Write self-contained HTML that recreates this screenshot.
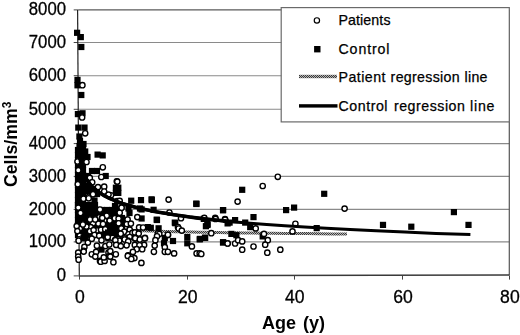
<!DOCTYPE html>
<html><head><meta charset="utf-8"><style>
html,body{margin:0;padding:0;background:#fff;}
svg{display:block;filter:blur(0.35px);}
.t{font-family:"Liberation Sans",sans-serif;font-size:17.6px;fill:#000;stroke:#000;stroke-width:0.3px;}
.l{font-family:"Liberation Sans",sans-serif;font-size:14.2px;fill:#000;stroke:#000;stroke-width:0.25px;}
.b{font-family:"Liberation Sans",sans-serif;font-size:18px;font-weight:bold;fill:#000;}
</style></head><body>
<svg width="520" height="335" viewBox="0 0 520 335">
<defs><pattern id="h" width="2" height="2" patternUnits="userSpaceOnUse"><rect width="2" height="2" fill="#b4b4b4"/><rect width="1" height="1" fill="#3a3a3a"/><rect x="1" y="1" width="1" height="1" fill="#3a3a3a"/></pattern></defs>
<line x1="78.2" y1="241.9" x2="509.3" y2="241.9" stroke="#8a8a8a" stroke-width="1.1"/>
<line x1="78.2" y1="209.4" x2="509.3" y2="209.4" stroke="#8a8a8a" stroke-width="1.1"/>
<line x1="78.2" y1="176.4" x2="509.3" y2="176.4" stroke="#8a8a8a" stroke-width="1.1"/>
<line x1="78.2" y1="143.6" x2="509.3" y2="143.6" stroke="#8a8a8a" stroke-width="1.1"/>
<line x1="78.2" y1="109.3" x2="509.3" y2="109.3" stroke="#8a8a8a" stroke-width="1.1"/>
<line x1="78.2" y1="75.7" x2="509.3" y2="75.7" stroke="#8a8a8a" stroke-width="1.1"/>
<line x1="78.2" y1="42.5" x2="509.3" y2="42.5" stroke="#8a8a8a" stroke-width="1.1"/>
<line x1="78.2" y1="9.9" x2="509.3" y2="9.9" stroke="#5a5a5a" stroke-width="1.3"/>
<line x1="73.7" y1="275.9" x2="78.2" y2="275.9" stroke="#444" stroke-width="1"/>
<line x1="73.7" y1="241.9" x2="78.2" y2="241.9" stroke="#444" stroke-width="1"/>
<line x1="73.7" y1="209.4" x2="78.2" y2="209.4" stroke="#444" stroke-width="1"/>
<line x1="73.7" y1="176.4" x2="78.2" y2="176.4" stroke="#444" stroke-width="1"/>
<line x1="73.7" y1="143.6" x2="78.2" y2="143.6" stroke="#444" stroke-width="1"/>
<line x1="73.7" y1="109.3" x2="78.2" y2="109.3" stroke="#444" stroke-width="1"/>
<line x1="73.7" y1="75.7" x2="78.2" y2="75.7" stroke="#444" stroke-width="1"/>
<line x1="73.7" y1="42.5" x2="78.2" y2="42.5" stroke="#444" stroke-width="1"/>
<line x1="73.7" y1="9.9" x2="78.2" y2="9.9" stroke="#444" stroke-width="1"/>
<line x1="79.5" y1="275.6" x2="79.5" y2="279.6" stroke="#444" stroke-width="1"/>
<line x1="187.5" y1="275.6" x2="187.5" y2="279.6" stroke="#444" stroke-width="1"/>
<line x1="294.5" y1="275.6" x2="294.5" y2="279.6" stroke="#444" stroke-width="1"/>
<line x1="402.5" y1="275.6" x2="402.5" y2="279.6" stroke="#444" stroke-width="1"/>
<line x1="509.5" y1="275.6" x2="509.5" y2="279.6" stroke="#444" stroke-width="1"/>
<line x1="509.3" y1="10.0" x2="509.3" y2="275.6" stroke="#555" stroke-width="1.2"/>
<line x1="77.6" y1="10.0" x2="79.3" y2="276.2" stroke="#222" stroke-width="1.2"/>
<line x1="78.5" y1="276.0" x2="509.3" y2="274.9" stroke="#3a3a3a" stroke-width="1.5"/>
<text x="66" y="281.2" text-anchor="end" class="t" textLength="9.3" lengthAdjust="spacingAndGlyphs">0</text>
<text x="66" y="247.2" text-anchor="end" class="t" textLength="37.2" lengthAdjust="spacingAndGlyphs">1000</text>
<text x="66" y="214.7" text-anchor="end" class="t" textLength="37.2" lengthAdjust="spacingAndGlyphs">2000</text>
<text x="66" y="181.7" text-anchor="end" class="t" textLength="37.2" lengthAdjust="spacingAndGlyphs">3000</text>
<text x="66" y="148.9" text-anchor="end" class="t" textLength="37.2" lengthAdjust="spacingAndGlyphs">4000</text>
<text x="66" y="114.6" text-anchor="end" class="t" textLength="37.2" lengthAdjust="spacingAndGlyphs">5000</text>
<text x="66" y="81.0" text-anchor="end" class="t" textLength="37.2" lengthAdjust="spacingAndGlyphs">6000</text>
<text x="66" y="47.8" text-anchor="end" class="t" textLength="37.2" lengthAdjust="spacingAndGlyphs">7000</text>
<text x="66" y="15.2" text-anchor="end" class="t" textLength="37.2" lengthAdjust="spacingAndGlyphs">8000</text>
<text x="79.9" y="302.6" text-anchor="middle" class="t">0</text>
<text x="187.8" y="302.6" text-anchor="middle" class="t">20</text>
<text x="294.8" y="302.6" text-anchor="middle" class="t">40</text>
<text x="403.1" y="302.6" text-anchor="middle" class="t">60</text>
<text x="509.9" y="302.6" text-anchor="middle" class="t">80</text>
<text x="262" y="329.3" class="b" word-spacing="2">Age (y)</text>
<text transform="translate(17,187) rotate(-90)" class="b" style="font-size:17.7px">Cells/mm<tspan font-size="12" dy="-6.5">3</tspan></text>
<path d="M88.8,226.7 L89.4,226.8 L90.0,226.9 L90.7,227.0 L91.4,227.2 L92.1,227.3 L92.9,227.4 L93.7,227.5 L94.6,227.7 L95.5,227.8 L96.4,227.9 L97.4,228.0 L98.5,228.1 L99.6,228.3 L100.8,228.4 L102.1,228.5 L103.4,228.6 L104.8,228.8 L106.3,228.9 L107.9,229.0 L109.5,229.1 L111.2,229.2 L113.1,229.4 L115.0,229.5 L117.0,229.6 L119.2,229.7 L121.5,229.9 L123.8,230.0 L126.4,230.1 L129.0,230.2 L131.8,230.3 L134.8,230.5 L137.9,230.6 L141.2,230.7 L144.7,230.8 L148.4,231.0 L152.3,231.1 L156.4,231.2 L160.7,231.3 L165.2,231.4 L170.0,231.6 L175.1,231.7 L180.5,231.8 L186.1,231.9 L192.1,232.1 L198.3,232.2 L205.0,232.3 L212.0,232.4 L219.3,232.5 L227.1,232.7 L235.3,232.8 L244.0,232.9 L253.2,233.0 L262.8,233.2 L273.0,233.3 L283.7,233.4 L295.0,233.5 L307.0,233.6 L319.6,233.8 L332.9,233.9 L347.0,234.0" stroke="url(#h)" stroke-width="3" fill="none"/>
<rect x="74.9" y="146.9" width="6.2" height="6.2"/>
<rect x="79.9" y="146.9" width="6.2" height="6.2"/>
<rect x="74.9" y="151.9" width="6.2" height="6.2"/>
<rect x="79.9" y="151.9" width="6.2" height="6.2"/>
<rect x="74.9" y="156.9" width="6.2" height="6.2"/>
<rect x="79.9" y="156.9" width="6.2" height="6.2"/>
<rect x="74.9" y="161.9" width="6.2" height="6.2"/>
<rect x="79.9" y="161.9" width="6.2" height="6.2"/>
<rect x="74.9" y="166.9" width="6.2" height="6.2"/>
<rect x="79.9" y="166.9" width="6.2" height="6.2"/>
<rect x="74.9" y="171.9" width="6.2" height="6.2"/>
<rect x="79.9" y="171.9" width="6.2" height="6.2"/>
<rect x="74.9" y="176.9" width="6.2" height="6.2"/>
<rect x="79.9" y="176.9" width="6.2" height="6.2"/>
<rect x="74.9" y="181.9" width="6.2" height="6.2"/>
<rect x="79.9" y="181.9" width="6.2" height="6.2"/>
<rect x="74.9" y="186.9" width="6.2" height="6.2"/>
<rect x="79.9" y="186.9" width="6.2" height="6.2"/>
<rect x="74.9" y="191.9" width="6.2" height="6.2"/>
<rect x="79.9" y="191.9" width="6.2" height="6.2"/>
<rect x="74.9" y="196.9" width="6.2" height="6.2"/>
<rect x="79.9" y="196.9" width="6.2" height="6.2"/>
<rect x="74.9" y="201.9" width="6.2" height="6.2"/>
<rect x="79.9" y="201.9" width="6.2" height="6.2"/>
<rect x="88.9" y="167.9" width="6.2" height="6.2"/>
<rect x="93.9" y="167.9" width="6.2" height="6.2"/>
<rect x="88.9" y="185.9" width="6.2" height="6.2"/>
<rect x="93.9" y="185.9" width="6.2" height="6.2"/>
<rect x="88.9" y="190.9" width="6.2" height="6.2"/>
<rect x="93.9" y="190.9" width="6.2" height="6.2"/>
<rect x="74.9" y="201.9" width="6.2" height="6.2"/>
<rect x="79.9" y="201.9" width="6.2" height="6.2"/>
<rect x="84.9" y="201.9" width="6.2" height="6.2"/>
<rect x="89.9" y="201.9" width="6.2" height="6.2"/>
<rect x="74.9" y="206.9" width="6.2" height="6.2"/>
<rect x="79.9" y="206.9" width="6.2" height="6.2"/>
<rect x="84.9" y="206.9" width="6.2" height="6.2"/>
<rect x="89.9" y="206.9" width="6.2" height="6.2"/>
<rect x="74.9" y="211.9" width="6.2" height="6.2"/>
<rect x="79.9" y="211.9" width="6.2" height="6.2"/>
<rect x="84.9" y="211.9" width="6.2" height="6.2"/>
<rect x="89.9" y="211.9" width="6.2" height="6.2"/>
<rect x="74.9" y="216.9" width="6.2" height="6.2"/>
<rect x="79.9" y="216.9" width="6.2" height="6.2"/>
<rect x="84.9" y="216.9" width="6.2" height="6.2"/>
<rect x="89.9" y="216.9" width="6.2" height="6.2"/>
<rect x="74.9" y="221.9" width="6.2" height="6.2"/>
<rect x="79.9" y="221.9" width="6.2" height="6.2"/>
<rect x="84.9" y="221.9" width="6.2" height="6.2"/>
<rect x="89.9" y="221.9" width="6.2" height="6.2"/>
<rect x="74.9" y="226.9" width="6.2" height="6.2"/>
<rect x="79.9" y="226.9" width="6.2" height="6.2"/>
<rect x="84.9" y="226.9" width="6.2" height="6.2"/>
<rect x="89.9" y="226.9" width="6.2" height="6.2"/>
<rect x="74.9" y="231.9" width="6.2" height="6.2"/>
<rect x="79.9" y="231.9" width="6.2" height="6.2"/>
<rect x="84.9" y="231.9" width="6.2" height="6.2"/>
<rect x="89.9" y="231.9" width="6.2" height="6.2"/>
<rect x="93.9" y="206.9" width="6.2" height="6.2"/>
<rect x="98.9" y="206.9" width="6.2" height="6.2"/>
<rect x="103.9" y="206.9" width="6.2" height="6.2"/>
<rect x="108.9" y="206.9" width="6.2" height="6.2"/>
<rect x="113.9" y="206.9" width="6.2" height="6.2"/>
<rect x="93.9" y="211.9" width="6.2" height="6.2"/>
<rect x="98.9" y="211.9" width="6.2" height="6.2"/>
<rect x="103.9" y="211.9" width="6.2" height="6.2"/>
<rect x="108.9" y="211.9" width="6.2" height="6.2"/>
<rect x="113.9" y="211.9" width="6.2" height="6.2"/>
<rect x="93.9" y="216.9" width="6.2" height="6.2"/>
<rect x="98.9" y="216.9" width="6.2" height="6.2"/>
<rect x="103.9" y="216.9" width="6.2" height="6.2"/>
<rect x="108.9" y="216.9" width="6.2" height="6.2"/>
<rect x="113.9" y="216.9" width="6.2" height="6.2"/>
<rect x="93.9" y="221.9" width="6.2" height="6.2"/>
<rect x="98.9" y="221.9" width="6.2" height="6.2"/>
<rect x="103.9" y="221.9" width="6.2" height="6.2"/>
<rect x="108.9" y="221.9" width="6.2" height="6.2"/>
<rect x="113.9" y="221.9" width="6.2" height="6.2"/>
<rect x="93.9" y="226.9" width="6.2" height="6.2"/>
<rect x="98.9" y="226.9" width="6.2" height="6.2"/>
<rect x="103.9" y="226.9" width="6.2" height="6.2"/>
<rect x="108.9" y="226.9" width="6.2" height="6.2"/>
<rect x="113.9" y="226.9" width="6.2" height="6.2"/>
<rect x="93.9" y="231.9" width="6.2" height="6.2"/>
<rect x="98.9" y="231.9" width="6.2" height="6.2"/>
<rect x="103.9" y="231.9" width="6.2" height="6.2"/>
<rect x="108.9" y="231.9" width="6.2" height="6.2"/>
<rect x="113.9" y="231.9" width="6.2" height="6.2"/>
<rect x="113.9" y="214.9" width="6.2" height="6.2"/>
<rect x="118.9" y="214.9" width="6.2" height="6.2"/>
<rect x="113.9" y="219.9" width="6.2" height="6.2"/>
<rect x="118.9" y="219.9" width="6.2" height="6.2"/>
<rect x="113.9" y="224.9" width="6.2" height="6.2"/>
<rect x="118.9" y="224.9" width="6.2" height="6.2"/>
<rect x="113.9" y="229.9" width="6.2" height="6.2"/>
<rect x="118.9" y="229.9" width="6.2" height="6.2"/>
<rect x="74.0" y="29.7" width="6.2" height="6.2"/>
<rect x="77.7" y="34.0" width="6.2" height="6.2"/>
<rect x="78.2" y="43.9" width="6.2" height="6.2"/>
<rect x="74.4" y="76.8" width="6.2" height="6.2"/>
<rect x="74.4" y="82.2" width="6.2" height="6.2"/>
<rect x="78.2" y="91.9" width="6.2" height="6.2"/>
<rect x="74.8" y="111.0" width="6.2" height="6.2"/>
<rect x="79.4" y="110.2" width="6.2" height="6.2"/>
<rect x="75.2" y="124.5" width="6.2" height="6.2"/>
<rect x="81.4" y="124.5" width="6.2" height="6.2"/>
<rect x="76.4" y="142.9" width="6.2" height="6.2"/>
<rect x="76.3" y="133.4" width="6.2" height="6.2"/>
<rect x="76.9" y="137.9" width="6.2" height="6.2"/>
<rect x="80.4" y="140.9" width="6.2" height="6.2"/>
<rect x="77.4" y="146.1" width="6.2" height="6.2"/>
<rect x="82.1" y="148.4" width="6.2" height="6.2"/>
<rect x="75.1" y="152.3" width="6.2" height="6.2"/>
<rect x="80.6" y="153.1" width="6.2" height="6.2"/>
<rect x="84.4" y="153.9" width="6.2" height="6.2"/>
<rect x="94.5" y="151.5" width="6.2" height="6.2"/>
<rect x="99.6" y="152.3" width="6.2" height="6.2"/>
<rect x="102.6" y="172.9" width="6.2" height="6.2"/>
<rect x="112.8" y="184.6" width="6.2" height="6.2"/>
<rect x="115.2" y="184.6" width="6.2" height="6.2"/>
<rect x="112.8" y="189.8" width="6.2" height="6.2"/>
<rect x="115.2" y="189.8" width="6.2" height="6.2"/>
<rect x="128.1" y="197.6" width="6.2" height="6.2"/>
<rect x="137.9" y="197.0" width="6.2" height="6.2"/>
<rect x="148.7" y="197.0" width="6.2" height="6.2"/>
<rect x="138.5" y="206.3" width="6.2" height="6.2"/>
<rect x="150.5" y="206.7" width="6.2" height="6.2"/>
<rect x="138.5" y="215.4" width="6.2" height="6.2"/>
<rect x="144.7" y="224.0" width="6.2" height="6.2"/>
<rect x="153.6" y="216.6" width="6.2" height="6.2"/>
<rect x="155.5" y="225.2" width="6.2" height="6.2"/>
<rect x="172.2" y="220.1" width="6.2" height="6.2"/>
<rect x="148.5" y="196.2" width="6.2" height="6.2"/>
<rect x="153.9" y="216.9" width="6.2" height="6.2"/>
<rect x="171.7" y="219.5" width="6.2" height="6.2"/>
<rect x="193.2" y="200.5" width="6.2" height="6.2"/>
<rect x="219.9" y="207.1" width="6.2" height="6.2"/>
<rect x="204.4" y="221.0" width="6.2" height="6.2"/>
<rect x="202.8" y="223.1" width="6.2" height="6.2"/>
<rect x="224.5" y="220.3" width="6.2" height="6.2"/>
<rect x="147.7" y="224.7" width="6.2" height="6.2"/>
<rect x="161.7" y="234.8" width="6.2" height="6.2"/>
<rect x="160.9" y="240.2" width="6.2" height="6.2"/>
<rect x="169.9" y="237.9" width="6.2" height="6.2"/>
<rect x="184.2" y="234.0" width="6.2" height="6.2"/>
<rect x="184.2" y="240.2" width="6.2" height="6.2"/>
<rect x="196.6" y="236.3" width="6.2" height="6.2"/>
<rect x="202.0" y="234.8" width="6.2" height="6.2"/>
<rect x="219.9" y="239.4" width="6.2" height="6.2"/>
<rect x="193.3" y="200.9" width="6.2" height="6.2"/>
<rect x="220.0" y="207.0" width="6.2" height="6.2"/>
<rect x="283.0" y="207.0" width="6.2" height="6.2"/>
<rect x="291.0" y="204.5" width="6.2" height="6.2"/>
<rect x="250.4" y="214.0" width="6.2" height="6.2"/>
<rect x="200.7" y="215.8" width="6.2" height="6.2"/>
<rect x="204.4" y="221.9" width="6.2" height="6.2"/>
<rect x="226.5" y="219.5" width="6.2" height="6.2"/>
<rect x="232.0" y="217.0" width="6.2" height="6.2"/>
<rect x="242.1" y="219.5" width="6.2" height="6.2"/>
<rect x="247.1" y="224.0" width="6.2" height="6.2"/>
<rect x="313.6" y="225.0" width="6.2" height="6.2"/>
<rect x="201.9" y="234.6" width="6.2" height="6.2"/>
<rect x="196.9" y="235.8" width="6.2" height="6.2"/>
<rect x="228.3" y="230.8" width="6.2" height="6.2"/>
<rect x="233.3" y="232.1" width="6.2" height="6.2"/>
<rect x="259.6" y="233.3" width="6.2" height="6.2"/>
<rect x="220.0" y="239.1" width="6.2" height="6.2"/>
<rect x="239.1" y="186.7" width="6.2" height="6.2"/>
<rect x="321.1" y="190.7" width="6.2" height="6.2"/>
<rect x="379.9" y="221.8" width="6.2" height="6.2"/>
<rect x="408.2" y="223.6" width="6.2" height="6.2"/>
<rect x="450.8" y="209.0" width="6.2" height="6.2"/>
<rect x="465.4" y="221.8" width="6.2" height="6.2"/>
<rect x="79.8" y="235.2" width="6.2" height="6.2"/>
<rect x="98.4" y="246.5" width="6.2" height="6.2"/>
<rect x="125.4" y="205.4" width="6.2" height="6.2"/>
<rect x="126.4" y="209.9" width="6.2" height="6.2"/>
<rect x="136.9" y="205.4" width="6.2" height="6.2"/>
<rect x="84.4" y="182.4" width="6.2" height="6.2"/>
<rect x="84.4" y="187.9" width="6.2" height="6.2"/>
<rect x="84.9" y="172.9" width="6.2" height="6.2"/>
<rect x="91.4" y="197.4" width="6.2" height="6.2"/>
<rect x="91.9" y="201.9" width="6.2" height="6.2"/>
<rect x="111.9" y="202.9" width="6.2" height="6.2"/>
<rect x="109.9" y="207.9" width="6.2" height="6.2"/>
<circle cx="82.4" cy="85.2" r="2.65" fill="#fff" stroke="#000" stroke-width="1.4"/>
<circle cx="82.1" cy="117.5" r="2.65" fill="#fff" stroke="#000" stroke-width="1.4"/>
<circle cx="85.2" cy="133.3" r="2.65" fill="#fff" stroke="#000" stroke-width="1.4"/>
<circle cx="86.5" cy="162" r="2.65" fill="#fff" stroke="#000" stroke-width="1.4"/>
<circle cx="77.5" cy="161.5" r="2.65" fill="#fff" stroke="#000" stroke-width="1.4"/>
<circle cx="78.3" cy="170.2" r="2.65" fill="#fff" stroke="#000" stroke-width="1.4"/>
<circle cx="102.8" cy="167.3" r="2.65" fill="#fff" stroke="#000" stroke-width="1.4"/>
<circle cx="101.3" cy="177" r="2.65" fill="#fff" stroke="#000" stroke-width="1.4"/>
<circle cx="89.8" cy="177.9" r="2.65" fill="#fff" stroke="#000" stroke-width="1.4"/>
<circle cx="116.8" cy="181.3" r="2.65" fill="#fff" stroke="#000" stroke-width="1.4"/>
<circle cx="77.8" cy="184.3" r="2.65" fill="#fff" stroke="#000" stroke-width="1.4"/>
<circle cx="92.2" cy="182.3" r="2.65" fill="#fff" stroke="#000" stroke-width="1.4"/>
<circle cx="98" cy="187.1" r="2.65" fill="#fff" stroke="#000" stroke-width="1.4"/>
<circle cx="104.2" cy="186.7" r="2.65" fill="#fff" stroke="#000" stroke-width="1.4"/>
<circle cx="104.2" cy="191.5" r="2.65" fill="#fff" stroke="#000" stroke-width="1.4"/>
<circle cx="88.8" cy="196.8" r="2.65" fill="#fff" stroke="#000" stroke-width="1.4"/>
<circle cx="83.5" cy="198.7" r="2.65" fill="#fff" stroke="#000" stroke-width="1.4"/>
<circle cx="111" cy="195.3" r="2.65" fill="#fff" stroke="#000" stroke-width="1.4"/>
<circle cx="117.2" cy="201.1" r="2.65" fill="#fff" stroke="#000" stroke-width="1.4"/>
<circle cx="93" cy="194.3" r="2.65" fill="#fff" stroke="#000" stroke-width="1.4"/>
<circle cx="108.5" cy="194.6" r="2.65" fill="#fff" stroke="#000" stroke-width="1.4"/>
<circle cx="88.7" cy="198.3" r="2.65" fill="#fff" stroke="#000" stroke-width="1.4"/>
<circle cx="78.3" cy="207.6" r="2.65" fill="#fff" stroke="#000" stroke-width="1.4"/>
<circle cx="99.5" cy="217.1" r="2.65" fill="#fff" stroke="#000" stroke-width="1.4"/>
<circle cx="100" cy="209.5" r="2.65" fill="#fff" stroke="#000" stroke-width="1.4"/>
<circle cx="104.6" cy="220.3" r="2.65" fill="#fff" stroke="#000" stroke-width="1.4"/>
<circle cx="98.3" cy="223.6" r="2.65" fill="#fff" stroke="#000" stroke-width="1.4"/>
<circle cx="93" cy="223.3" r="2.65" fill="#fff" stroke="#000" stroke-width="1.4"/>
<circle cx="90.6" cy="227.1" r="2.65" fill="#fff" stroke="#000" stroke-width="1.4"/>
<circle cx="97.1" cy="230.4" r="2.65" fill="#fff" stroke="#000" stroke-width="1.4"/>
<circle cx="90" cy="231.3" r="2.65" fill="#fff" stroke="#000" stroke-width="1.4"/>
<circle cx="101" cy="229.8" r="2.65" fill="#fff" stroke="#000" stroke-width="1.4"/>
<circle cx="110" cy="219.4" r="2.65" fill="#fff" stroke="#000" stroke-width="1.4"/>
<circle cx="106.7" cy="215.8" r="2.65" fill="#fff" stroke="#000" stroke-width="1.4"/>
<circle cx="86.4" cy="226.6" r="2.65" fill="#fff" stroke="#000" stroke-width="1.4"/>
<circle cx="93.6" cy="230.1" r="2.65" fill="#fff" stroke="#000" stroke-width="1.4"/>
<circle cx="101.9" cy="218.2" r="2.65" fill="#fff" stroke="#000" stroke-width="1.4"/>
<circle cx="94.5" cy="235" r="2.65" fill="#fff" stroke="#000" stroke-width="1.4"/>
<circle cx="99.2" cy="235.8" r="2.65" fill="#fff" stroke="#000" stroke-width="1.4"/>
<circle cx="79.8" cy="228.4" r="2.65" fill="#fff" stroke="#000" stroke-width="1.4"/>
<circle cx="79.8" cy="235.8" r="2.65" fill="#fff" stroke="#000" stroke-width="1.4"/>
<circle cx="82.9" cy="224.5" r="2.65" fill="#fff" stroke="#000" stroke-width="1.4"/>
<circle cx="76.7" cy="226.1" r="2.65" fill="#fff" stroke="#000" stroke-width="1.4"/>
<circle cx="77.4" cy="231.1" r="2.65" fill="#fff" stroke="#000" stroke-width="1.4"/>
<circle cx="80.5" cy="213" r="2.65" fill="#fff" stroke="#000" stroke-width="1.4"/>
<circle cx="121.4" cy="207.4" r="2.65" fill="#fff" stroke="#000" stroke-width="1.4"/>
<circle cx="109.7" cy="220.6" r="2.65" fill="#fff" stroke="#000" stroke-width="1.4"/>
<circle cx="114.8" cy="218.3" r="2.65" fill="#fff" stroke="#000" stroke-width="1.4"/>
<circle cx="118.6" cy="218.6" r="2.65" fill="#fff" stroke="#000" stroke-width="1.4"/>
<circle cx="127.6" cy="219.4" r="2.65" fill="#fff" stroke="#000" stroke-width="1.4"/>
<circle cx="102.3" cy="217.9" r="2.65" fill="#fff" stroke="#000" stroke-width="1.4"/>
<circle cx="137.3" cy="217.1" r="2.65" fill="#fff" stroke="#000" stroke-width="1.4"/>
<circle cx="118.6" cy="223.3" r="2.65" fill="#fff" stroke="#000" stroke-width="1.4"/>
<circle cx="126.8" cy="224.1" r="2.65" fill="#fff" stroke="#000" stroke-width="1.4"/>
<circle cx="130.9" cy="223.6" r="2.65" fill="#fff" stroke="#000" stroke-width="1.4"/>
<circle cx="105.2" cy="229.3" r="2.65" fill="#fff" stroke="#000" stroke-width="1.4"/>
<circle cx="121.3" cy="228.4" r="2.65" fill="#fff" stroke="#000" stroke-width="1.4"/>
<circle cx="124.3" cy="231.7" r="2.65" fill="#fff" stroke="#000" stroke-width="1.4"/>
<circle cx="129.7" cy="229.6" r="2.65" fill="#fff" stroke="#000" stroke-width="1.4"/>
<circle cx="120.7" cy="233.7" r="2.65" fill="#fff" stroke="#000" stroke-width="1.4"/>
<circle cx="128.5" cy="234.3" r="2.65" fill="#fff" stroke="#000" stroke-width="1.4"/>
<circle cx="132.4" cy="232.9" r="2.65" fill="#fff" stroke="#000" stroke-width="1.4"/>
<circle cx="107.6" cy="237.9" r="2.65" fill="#fff" stroke="#000" stroke-width="1.4"/>
<circle cx="112.4" cy="237.9" r="2.65" fill="#fff" stroke="#000" stroke-width="1.4"/>
<circle cx="124.3" cy="238.5" r="2.65" fill="#fff" stroke="#000" stroke-width="1.4"/>
<circle cx="129.7" cy="237" r="2.65" fill="#fff" stroke="#000" stroke-width="1.4"/>
<circle cx="118.3" cy="239.1" r="2.65" fill="#fff" stroke="#000" stroke-width="1.4"/>
<circle cx="119.7" cy="212.7" r="2.65" fill="#fff" stroke="#000" stroke-width="1.4"/>
<circle cx="121.6" cy="207.7" r="2.65" fill="#fff" stroke="#000" stroke-width="1.4"/>
<circle cx="134.9" cy="232.4" r="2.65" fill="#fff" stroke="#000" stroke-width="1.4"/>
<circle cx="138.7" cy="233.6" r="2.65" fill="#fff" stroke="#000" stroke-width="1.4"/>
<circle cx="139.1" cy="227.4" r="2.65" fill="#fff" stroke="#000" stroke-width="1.4"/>
<circle cx="145" cy="237.9" r="2.65" fill="#fff" stroke="#000" stroke-width="1.4"/>
<circle cx="139.5" cy="239" r="2.65" fill="#fff" stroke="#000" stroke-width="1.4"/>
<circle cx="134.9" cy="238.3" r="2.65" fill="#fff" stroke="#000" stroke-width="1.4"/>
<circle cx="90.6" cy="238.5" r="2.65" fill="#fff" stroke="#000" stroke-width="1.4"/>
<circle cx="107.7" cy="237" r="2.65" fill="#fff" stroke="#000" stroke-width="1.4"/>
<circle cx="79" cy="239.3" r="2.65" fill="#fff" stroke="#000" stroke-width="1.4"/>
<circle cx="115" cy="240.2" r="2.65" fill="#fff" stroke="#000" stroke-width="1.4"/>
<circle cx="119.3" cy="240.6" r="2.65" fill="#fff" stroke="#000" stroke-width="1.4"/>
<circle cx="127.9" cy="240.6" r="2.65" fill="#fff" stroke="#000" stroke-width="1.4"/>
<circle cx="78.6" cy="240.7" r="2.65" fill="#fff" stroke="#000" stroke-width="1.4"/>
<circle cx="87.9" cy="242.6" r="2.65" fill="#fff" stroke="#000" stroke-width="1.4"/>
<circle cx="91.8" cy="238.7" r="2.65" fill="#fff" stroke="#000" stroke-width="1.4"/>
<circle cx="84.4" cy="246.9" r="2.65" fill="#fff" stroke="#000" stroke-width="1.4"/>
<circle cx="83.7" cy="250.8" r="2.65" fill="#fff" stroke="#000" stroke-width="1.4"/>
<circle cx="78.2" cy="252.7" r="2.65" fill="#fff" stroke="#000" stroke-width="1.4"/>
<circle cx="78.2" cy="256.6" r="2.65" fill="#fff" stroke="#000" stroke-width="1.4"/>
<circle cx="91.8" cy="254.3" r="2.65" fill="#fff" stroke="#000" stroke-width="1.4"/>
<circle cx="96.1" cy="251.9" r="2.65" fill="#fff" stroke="#000" stroke-width="1.4"/>
<circle cx="96.9" cy="245.7" r="2.65" fill="#fff" stroke="#000" stroke-width="1.4"/>
<circle cx="95.3" cy="256.6" r="2.65" fill="#fff" stroke="#000" stroke-width="1.4"/>
<circle cx="101.5" cy="240.3" r="2.65" fill="#fff" stroke="#000" stroke-width="1.4"/>
<circle cx="105.4" cy="246.1" r="2.65" fill="#fff" stroke="#000" stroke-width="1.4"/>
<circle cx="108.5" cy="252.7" r="2.65" fill="#fff" stroke="#000" stroke-width="1.4"/>
<circle cx="109.3" cy="256.2" r="2.65" fill="#fff" stroke="#000" stroke-width="1.4"/>
<circle cx="109.3" cy="244.5" r="2.65" fill="#fff" stroke="#000" stroke-width="1.4"/>
<circle cx="100" cy="260.9" r="2.65" fill="#fff" stroke="#000" stroke-width="1.4"/>
<circle cx="78.6" cy="259.7" r="2.65" fill="#fff" stroke="#000" stroke-width="1.4"/>
<circle cx="83.7" cy="251.6" r="2.65" fill="#fff" stroke="#000" stroke-width="1.4"/>
<circle cx="100.7" cy="261.7" r="2.65" fill="#fff" stroke="#000" stroke-width="1.4"/>
<circle cx="104.6" cy="260.9" r="2.65" fill="#fff" stroke="#000" stroke-width="1.4"/>
<circle cx="103.8" cy="257.4" r="2.65" fill="#fff" stroke="#000" stroke-width="1.4"/>
<circle cx="115.4" cy="240.3" r="2.65" fill="#fff" stroke="#000" stroke-width="1.4"/>
<circle cx="116.2" cy="244.9" r="2.65" fill="#fff" stroke="#000" stroke-width="1.4"/>
<circle cx="120.8" cy="246.1" r="2.65" fill="#fff" stroke="#000" stroke-width="1.4"/>
<circle cx="124.7" cy="239.5" r="2.65" fill="#fff" stroke="#000" stroke-width="1.4"/>
<circle cx="128.2" cy="241.4" r="2.65" fill="#fff" stroke="#000" stroke-width="1.4"/>
<circle cx="126.6" cy="245.3" r="2.65" fill="#fff" stroke="#000" stroke-width="1.4"/>
<circle cx="135.2" cy="238.3" r="2.65" fill="#fff" stroke="#000" stroke-width="1.4"/>
<circle cx="139.8" cy="239.5" r="2.65" fill="#fff" stroke="#000" stroke-width="1.4"/>
<circle cx="144.9" cy="238.3" r="2.65" fill="#fff" stroke="#000" stroke-width="1.4"/>
<circle cx="134.8" cy="244.9" r="2.65" fill="#fff" stroke="#000" stroke-width="1.4"/>
<circle cx="144.1" cy="244.9" r="2.65" fill="#fff" stroke="#000" stroke-width="1.4"/>
<circle cx="139.5" cy="245.3" r="2.65" fill="#fff" stroke="#000" stroke-width="1.4"/>
<circle cx="136.7" cy="249.2" r="2.65" fill="#fff" stroke="#000" stroke-width="1.4"/>
<circle cx="142.2" cy="249.2" r="2.65" fill="#fff" stroke="#000" stroke-width="1.4"/>
<circle cx="132.9" cy="251.9" r="2.65" fill="#fff" stroke="#000" stroke-width="1.4"/>
<circle cx="128.2" cy="255.4" r="2.65" fill="#fff" stroke="#000" stroke-width="1.4"/>
<circle cx="134.4" cy="258.1" r="2.65" fill="#fff" stroke="#000" stroke-width="1.4"/>
<circle cx="110.3" cy="251.1" r="2.65" fill="#fff" stroke="#000" stroke-width="1.4"/>
<circle cx="115.8" cy="254.3" r="2.65" fill="#fff" stroke="#000" stroke-width="1.4"/>
<circle cx="110.3" cy="256.6" r="2.65" fill="#fff" stroke="#000" stroke-width="1.4"/>
<circle cx="113.4" cy="262.2" r="2.65" fill="#fff" stroke="#000" stroke-width="1.4"/>
<circle cx="127.8" cy="255.9" r="2.65" fill="#fff" stroke="#000" stroke-width="1.4"/>
<circle cx="131.3" cy="259" r="2.65" fill="#fff" stroke="#000" stroke-width="1.4"/>
<circle cx="141.4" cy="262.9" r="2.65" fill="#fff" stroke="#000" stroke-width="1.4"/>
<circle cx="143.1" cy="227.5" r="2.65" fill="#fff" stroke="#000" stroke-width="1.4"/>
<circle cx="157.9" cy="233.3" r="2.65" fill="#fff" stroke="#000" stroke-width="1.4"/>
<circle cx="168" cy="234.9" r="2.65" fill="#fff" stroke="#000" stroke-width="1.4"/>
<circle cx="168.6" cy="199.6" r="2.65" fill="#fff" stroke="#000" stroke-width="1.4"/>
<circle cx="169.4" cy="212.5" r="2.65" fill="#fff" stroke="#000" stroke-width="1.4"/>
<circle cx="181" cy="218.2" r="2.65" fill="#fff" stroke="#000" stroke-width="1.4"/>
<circle cx="204.3" cy="217.9" r="2.65" fill="#fff" stroke="#000" stroke-width="1.4"/>
<circle cx="215.2" cy="217.9" r="2.65" fill="#fff" stroke="#000" stroke-width="1.4"/>
<circle cx="225" cy="219.2" r="2.65" fill="#fff" stroke="#000" stroke-width="1.4"/>
<circle cx="178" cy="227.2" r="2.65" fill="#fff" stroke="#000" stroke-width="1.4"/>
<circle cx="178.7" cy="228.5" r="2.65" fill="#fff" stroke="#000" stroke-width="1.4"/>
<circle cx="181.8" cy="230.6" r="2.65" fill="#fff" stroke="#000" stroke-width="1.4"/>
<circle cx="211.3" cy="233.2" r="2.65" fill="#fff" stroke="#000" stroke-width="1.4"/>
<circle cx="159.3" cy="234" r="2.65" fill="#fff" stroke="#000" stroke-width="1.4"/>
<circle cx="157" cy="236.3" r="2.65" fill="#fff" stroke="#000" stroke-width="1.4"/>
<circle cx="155.4" cy="240.2" r="2.65" fill="#fff" stroke="#000" stroke-width="1.4"/>
<circle cx="154.7" cy="245.6" r="2.65" fill="#fff" stroke="#000" stroke-width="1.4"/>
<circle cx="153.9" cy="251.8" r="2.65" fill="#fff" stroke="#000" stroke-width="1.4"/>
<circle cx="167.9" cy="234.8" r="2.65" fill="#fff" stroke="#000" stroke-width="1.4"/>
<circle cx="164.8" cy="247.2" r="2.65" fill="#fff" stroke="#000" stroke-width="1.4"/>
<circle cx="164.8" cy="251.8" r="2.65" fill="#fff" stroke="#000" stroke-width="1.4"/>
<circle cx="167.9" cy="251.8" r="2.65" fill="#fff" stroke="#000" stroke-width="1.4"/>
<circle cx="174.1" cy="253.4" r="2.65" fill="#fff" stroke="#000" stroke-width="1.4"/>
<circle cx="191.9" cy="246.4" r="2.65" fill="#fff" stroke="#000" stroke-width="1.4"/>
<circle cx="227.6" cy="243.3" r="2.65" fill="#fff" stroke="#000" stroke-width="1.4"/>
<circle cx="196.6" cy="253.4" r="2.65" fill="#fff" stroke="#000" stroke-width="1.4"/>
<circle cx="199.7" cy="253.4" r="2.65" fill="#fff" stroke="#000" stroke-width="1.4"/>
<circle cx="237.6" cy="201.6" r="2.65" fill="#fff" stroke="#000" stroke-width="1.4"/>
<circle cx="262.7" cy="186" r="2.65" fill="#fff" stroke="#000" stroke-width="1.4"/>
<circle cx="277.8" cy="176.8" r="2.65" fill="#fff" stroke="#000" stroke-width="1.4"/>
<circle cx="215.6" cy="218.9" r="2.65" fill="#fff" stroke="#000" stroke-width="1.4"/>
<circle cx="225.1" cy="219.6" r="2.65" fill="#fff" stroke="#000" stroke-width="1.4"/>
<circle cx="255.7" cy="228.4" r="2.65" fill="#fff" stroke="#000" stroke-width="1.4"/>
<circle cx="295.4" cy="223.8" r="2.65" fill="#fff" stroke="#000" stroke-width="1.4"/>
<circle cx="292.5" cy="231.4" r="2.65" fill="#fff" stroke="#000" stroke-width="1.4"/>
<circle cx="264" cy="233.9" r="2.65" fill="#fff" stroke="#000" stroke-width="1.4"/>
<circle cx="267.8" cy="240.2" r="2.65" fill="#fff" stroke="#000" stroke-width="1.4"/>
<circle cx="227.6" cy="243.5" r="2.65" fill="#fff" stroke="#000" stroke-width="1.4"/>
<circle cx="235.1" cy="243.5" r="2.65" fill="#fff" stroke="#000" stroke-width="1.4"/>
<circle cx="238.1" cy="240.2" r="2.65" fill="#fff" stroke="#000" stroke-width="1.4"/>
<circle cx="242.2" cy="241.4" r="2.65" fill="#fff" stroke="#000" stroke-width="1.4"/>
<circle cx="265.2" cy="244.7" r="2.65" fill="#fff" stroke="#000" stroke-width="1.4"/>
<circle cx="253.5" cy="246.5" r="2.65" fill="#fff" stroke="#000" stroke-width="1.4"/>
<circle cx="242.2" cy="249.7" r="2.65" fill="#fff" stroke="#000" stroke-width="1.4"/>
<circle cx="280.3" cy="249.7" r="2.65" fill="#fff" stroke="#000" stroke-width="1.4"/>
<circle cx="267.3" cy="252.7" r="2.65" fill="#fff" stroke="#000" stroke-width="1.4"/>
<circle cx="201.3" cy="254" r="2.65" fill="#fff" stroke="#000" stroke-width="1.4"/>
<circle cx="344.6" cy="208.6" r="2.65" fill="#fff" stroke="#000" stroke-width="1.4"/>
<circle cx="117.3" cy="181.6" r="2.65" fill="#fff" stroke="#000" stroke-width="1.4"/>
<circle cx="119.7" cy="200.9" r="2.65" fill="#fff" stroke="#000" stroke-width="1.4"/>
<circle cx="90.0" cy="219.5" r="2.65" fill="#fff" stroke="#000" stroke-width="1.4"/>
<circle cx="95.2" cy="219.5" r="2.65" fill="#fff" stroke="#000" stroke-width="1.4"/>
<circle cx="103.0" cy="224.0" r="2.65" fill="#fff" stroke="#000" stroke-width="1.4"/>
<rect x="104.9" y="229.4" width="6.2" height="6.2"/>
<rect x="80.4" y="234.4" width="6.2" height="6.2"/>
<rect x="81.9" y="233.9" width="6.2" height="6.2"/>
<rect x="107.9" y="226.4" width="6.2" height="6.2"/>
<path d="M79.6,154.6 L79.8,155.9 L79.9,157.3 L80.1,158.6 L80.3,160.0 L80.6,161.3 L80.8,162.6 L81.1,164.0 L81.4,165.3 L81.7,166.7 L82.0,168.0 L82.4,169.4 L82.8,170.7 L83.3,172.1 L83.8,173.4 L84.4,174.8 L85.0,176.1 L85.7,177.5 L86.4,178.8 L87.2,180.2 L88.1,181.5 L89.1,182.9 L90.1,184.2 L91.3,185.6 L92.5,186.9 L93.9,188.3 L95.5,189.6 L97.1,191.0 L99.0,192.3 L101.0,193.7 L103.2,195.0 L105.6,196.4 L108.2,197.7 L111.1,199.1 L114.3,200.4 L117.8,201.8 L121.6,203.1 L125.8,204.5 L130.4,205.8 L135.4,207.2 L140.9,208.5 L146.9,209.9 L153.5,211.2 L160.8,212.6 L168.7,213.9 L177.4,215.3 L186.9,216.6 L197.4,218.0 L208.8,219.3 L221.4,220.7 L235.1,222.0 L250.2,223.3 L266.7,224.6 L284.8,225.8 L304.6,227.1 L326.3,228.3 L350.1,229.6 L376.2,230.8 L404.8,232.1 L436.1,233.4 L470.4,234.6" stroke="#000" stroke-width="3.0" fill="none"/>
<path d="M79.6,154.6 L79.7,155.7 L79.9,156.8 L80.0,157.9 L80.2,159.0 L80.4,160.1 L80.5,161.2 L80.7,162.4 L81.0,163.5 L81.2,164.6 L81.4,165.7 L81.7,166.8 L82.0,167.9 L82.3,169.0 L82.7,170.2 L83.0,171.3 L83.4,172.4 L83.8,173.5 L84.3,174.6 L84.8,175.7 L85.3,176.8 L85.9,178.0 L86.5,179.1 L87.2,180.2 L87.9,181.3 L88.7,182.4 L89.5,183.5 L90.5,184.6 L91.4,185.8 L92.5,186.9 L93.6,188.0 L94.8,189.1 L96.2,190.2 L97.6,191.3 L99.1,192.4 L100.8,193.6 L102.6,194.7 L104.5,195.8 L106.6,196.9 L108.8,198.0 L111.3,199.1 L113.9,200.2 L116.7,201.4 L119.7,202.5 L123.0,203.6 L126.6,204.7 L130.4,205.8 L134.5,206.9 L138.9,208.0 L143.7,209.2 L148.9,210.3 L154.4,211.4 L160.4,212.5 L166.9,213.6 L173.9,214.7 L181.4,215.8 L189.5,217.0 L198.3,218.1 L207.7,219.2 L217.9,220.3 L228.9,221.4" stroke="#000" stroke-width="3.6" fill="none"/>
<rect x="281.2" y="7.6" width="228.1" height="114.3" fill="#fff" stroke="#6a6a6a" stroke-width="1.2"/>
<circle cx="316.9" cy="20.4" r="2.65" fill="#fff" stroke="#000" stroke-width="1.2"/>
<rect x="314.1" y="46.0" width="6.4" height="6.4" fill="#000"/>
<rect x="299" y="74.8" width="38" height="3.4" fill="url(#h)"/>
<rect x="299" y="104.2" width="38.5" height="3.4" fill="#000"/>
<text x="338.5" y="24.8" class="l" textLength="52.0" lengthAdjust="spacing">Patients</text>
<text x="338.5" y="53.5" class="l" textLength="51.0" lengthAdjust="spacing">Control</text>
<text x="338.5" y="82" class="l" textLength="47.0" lengthAdjust="spacing">Patient</text>
<text x="390.6" y="82" class="l" textLength="69.0" lengthAdjust="spacing">regression</text>
<text x="464.5" y="82" class="l" textLength="23.0" lengthAdjust="spacing">line</text>
<text x="338.5" y="110.5" class="l" textLength="49.0" lengthAdjust="spacing">Control</text>
<text x="393.9" y="110.5" class="l" textLength="71.0" lengthAdjust="spacing">regression</text>
<text x="470.0" y="110.5" class="l" textLength="24.5" lengthAdjust="spacing">line</text>
</svg>
</body></html>
